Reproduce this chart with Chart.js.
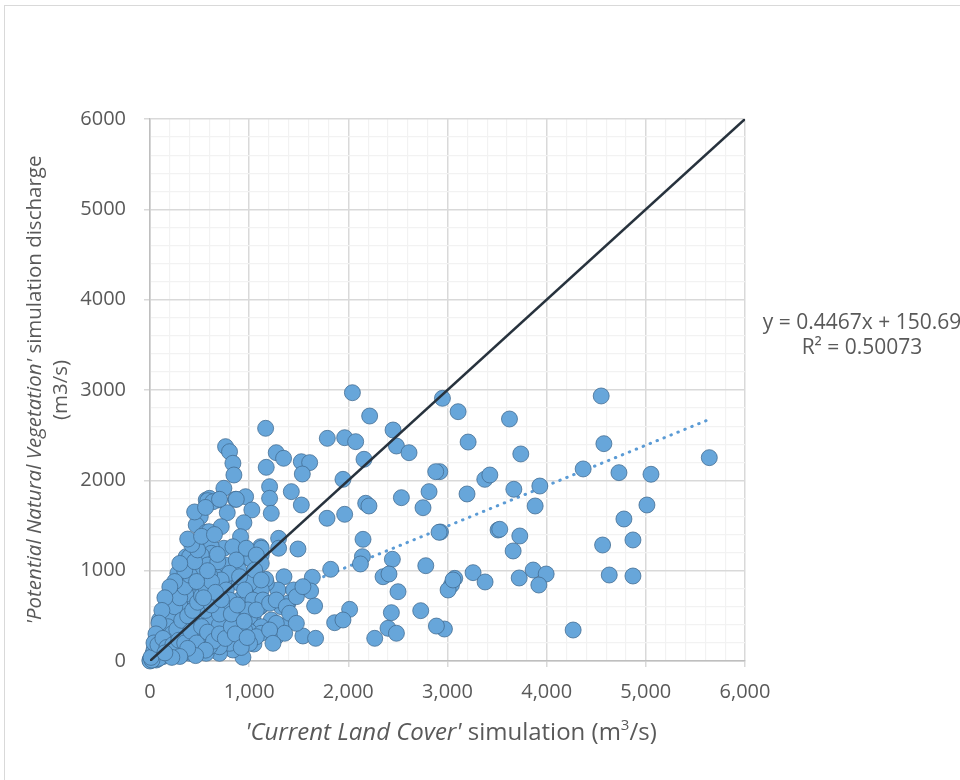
<!DOCTYPE html>
<html>
<head>
<meta charset="utf-8">
<script src="https://cdn.jsdelivr.net/npm/chart.js@4.4.1/dist/chart.umd.min.js"></script>
<style>
  html, body { margin: 0; padding: 0; background: #fff; overflow: hidden; }
  #wrap { position: relative; width: 960px; height: 780px; }
  #frame { position: absolute; left: 4px; top: 5px; width: 1000px; height: 1000px; border: 1.5px solid #d9d9d9; }
  canvas { position: absolute; left: 0; top: 0; }
</style>
</head>
<body>
<div id="wrap">
  <div id="frame"></div>
  <canvas id="dischargeChart" width="960" height="780"></canvas>
</div>
<script>
// x = 'Current Land Cover' discharge, y = 'Potential Natural Vegetation' discharge (m3/s)
const outerPoints = [
  [4550,2934],[3107,2760],[3625,2679],[3208,2424],[3739,2292],[4577,2406],[5640,2251],[2922,2096],
  [4368,2126],[4729,2085],[5052,2067],[3376,2011],[3427,2059],[3197,1849],[3669,1901],[3931,1937],
  [3884,1716],[5011,1727],[4779,1572],[2929,1428],[3510,1450],[3527,1458],[3729,1384],[3662,1218],
  [4564,1284],[4870,1340],[3258,978],[3073,915],[3040,841],[3006,786],[3379,875],[3723,919],
  [3864,1007],[3995,963],[3921,841],[4631,952],[4870,941],[2969,354],[4267,343]
];
const midPoints = [
  [2041,2970],[2949,2908],[2215,2712],[1166,2576],[1788,2465],[1963,2472],[2074,2428],[2451,2557],
  [2485,2380],[2612,2306],[762,2373],[802,2317],[1273,2306],[1347,2244],[1526,2206],[1610,2196],
  [1536,2070],[2158,2233],[836,2189],[846,2059],[1172,2144],[1946,2011],[2881,2096],[745,1912],
  [567,1782],[600,1801],[694,1782],[863,1790],[964,1819],[1206,1930],[1206,1801],[1223,1635],
  [1425,1875],[1526,1727],[1027,1672],[779,1642],[1785,1580],[1963,1624],[2175,1746],[2208,1716],
  [2535,1808],[2814,1875],[2753,1697],[2915,1425],[507,1598],[466,1506],[567,1425],[718,1487],
  [947,1531],[913,1376],[1297,1358],[1297,1248],[1115,1265],[1492,1240],[745,1248],[600,1284],
  [500,1303],[2148,1347],[2142,1155],[2122,1074],[2444,1126],[2781,1055],[1822,1015],[2350,933],
  [2410,963],[2501,767],[3056,897],[1637,927],[1620,775],[1660,609],[1351,933],[1290,786],
  [1448,786],[1391,639],[1324,601],[1173,860],[1105,805],[1115,601],[1122,1173],[1038,1118],
  [903,1118],[836,952],[2013,572],[1862,424],[1946,454],[2434,535],[2400,362],[2485,307],
  [2266,251],[2730,557],[2888,387],[1542,277],[1670,251],[1223,454],[1324,354],[1273,269],
  [1408,435],[1115,313],[937,41],[1048,188]
];
const clusterPoints = [
  [583,1775],[634,1763],[701,1790],[870,1790],[594,1432],[618,1265],[1122,1248],[365,1155],
  [432,1081],[517,1007],[634,1044],[752,1063],[1021,1126],[1122,1081],[896,1007],[802,933],
  [365,1007],[1166,904],[331,1063],[517,1026],[618,1192],[836,1265],[971,1248],[870,1118],
  [1072,1173],[315,897],[399,860],[533,897],[668,933],[802,971],[903,860],[1038,933],
  [1122,786],[230,786],[164,601],[331,675],[466,639],[601,712],[735,749],[836,601],
  [971,675],[1105,601],[903,454],[1038,490],[96,454],[230,490],[365,528],[500,490],
  [634,528],[769,454],[567,380],[399,380],[230,343],[96,307],[735,307],[870,343],
  [1004,380],[802,232],[668,196],[500,196],[331,196],[197,196],[63,158],[836,122],
  [701,85],[567,85],[399,85],[264,66],[129,48],[0,11],[1055,583],[1038,307],[903,232],
  [517,1173],[399,1155],[449,1063],[583,1063],[684,1099],[718,897],[600,952],[483,971],
  [382,897],[281,971],[331,805],[466,823],[634,786],[769,786],[903,675],[802,675],
  [668,639],[533,639],[399,675],[264,639],[164,565],[129,454],[500,546],[769,565],
  [903,565],[1004,490],[987,675],[1122,380],[1004,325],[903,269],[802,196],[701,158],
  [600,158],[466,103],[331,85],[197,85],[63,11],[0,0],[1004,860],[1055,1007],
  [1122,897],[903,933],[954,786],[1038,675],[987,565],[1139,675],[1072,565],[1206,639],
  [1273,675],[1375,601],[1476,712],[1542,823],[1273,417],[1408,528],[1476,417],[1358,307],
  [1122,307],[903,417],[954,343],[1072,269],[1206,343],[1240,196],[1004,196],
  [20,30],[40,20],[60,50],[30,80],[80,120],[50,150],[100,100],[120,60],[150,200],
  [180,120],[200,300],[100,250],[60,220],[140,350],[250,250],[300,150],[350,300],[280,420],
  [170,460],[210,560],[120,400],[40,120],[90,30],[20,10],[10,40],[260,100],[400,250],
  [450,400],[330,330],[420,150],[480,300],[550,260],[600,420],[650,300],[700,400],[750,600],
  [560,560],[440,700],[360,740],[260,780],[200,680],[300,620],
  [150,450],[200,520],[250,600],[300,700],[350,820],[180,380],[220,300],[270,350],
  [320,450],[380,500],[430,560],[480,650],[520,720],[560,820],[620,880],[400,950],
  [350,1000],[450,1100],[300,1080],[250,880],[200,820],[150,700],[120,560],[90,420],
  [60,300],[40,200],[80,180],[130,250],[170,150],[230,180],[290,230],[350,200],
  [410,330],[470,200],[520,380],[580,320],[640,220],[700,300],[760,250],[820,380],
  [860,300],[920,150],[980,260],[560,120],[460,60],[380,140],[300,50],[220,40],
  [150,90],[700,520],[620,620],[820,520],[880,620],[950,440],[720,680],[660,760],
  [540,700],[470,880],[580,1000],[680,1180],[480,1230],[420,1290],[380,1350],[520,1380],
  [650,1400],[450,1650],[560,1700]
];
const allPoints = outerPoints.concat(midPoints, clusterPoints);

// linear fit shown in the picture (dotted) and the 1:1 line
const trendX = [0, 5625];
const trendY = [151, 2668];
const diagX = [0, 6000];
const diagY = [0, 6000];

const trendLabel = ["y = 0.4467x + 150.69", "R\u00b2 = 0.50073"];
const xTitle = [
  { text: "'Current Land Cover'", italic: true },
  { text: " simulation (m" },
  { text: "3", sup: true },
  { text: "/s)" }
];
const yTitleLine1 = [
  { text: "'Potential Natural Vegetation'", italic: true },
  { text: " simulation discharge" }
];
const yTitleLine2 = [{ text: "(m3/s)" }];

const toXY = (xs, ys) => xs.map((x, i) => ({ x: x, y: ys[i] }));

function drawRich(ctx, parts, cx, cy, size) {
  const fontOf = p => (p.italic ? "italic " : "") + (p.sup ? Math.round(size * 0.62) : size) + 'px "Open Sans"';
  let total = 0;
  parts.forEach(p => { ctx.font = fontOf(p); total += ctx.measureText(p.text).width; });
  let x = cx - total / 2;
  ctx.textAlign = "left";
  parts.forEach(p => {
    ctx.font = fontOf(p);
    ctx.fillText(p.text, x, p.sup ? cy - size * 0.3 : cy);
    x += ctx.measureText(p.text).width;
  });
}

const textPlugin = {
  id: "textPlugin",
  afterDraw(chart) {
    const ctx = chart.ctx;
    ctx.save();
    ctx.fillStyle = "#595959";
    ctx.textBaseline = "middle";
    drawRich(ctx, xTitle, 451, 733, 24);
    drawRich(ctx, trendLabel.slice(0, 1).map(t => ({ text: t })), 862, 323, 21);
    drawRich(ctx, trendLabel.slice(1).map(t => ({ text: t })), 862, 348, 21);
    ctx.translate(35, 390);
    ctx.rotate(-Math.PI / 2);
    drawRich(ctx, yTitleLine1, 0, 0, 20.5);
    drawRich(ctx, yTitleLine2, 0, 26, 20.5);
    ctx.restore();
  }
};

const major = v => v % 1000 === 0;

new Chart(document.getElementById("dischargeChart"), {
  type: "scatter",
  data: {
    datasets: [
      {
        type: "line",
        data: toXY(diagX, diagY),
        borderColor: "#27323d",
        borderWidth: 2.5,
        pointRadius: 0,
        order: 0
      },
      {
        data: allPoints.map(p => ({ x: p[0], y: p[1] })),
        backgroundColor: "#67a6da",
        borderColor: "#40698f",
        borderWidth: 0.75,
        pointRadius: 8,
        clip: false,
        order: 1
      },
      {
        type: "line",
        data: toXY(trendX, trendY),
        borderColor: "#5b9bd5",
        borderWidth: 3,
        borderDash: [0.5, 7],
        borderCapStyle: "round",
        pointRadius: 0,
        order: 2
      }
    ]
  },
  options: {
    responsive: false,
    animation: false,
    devicePixelRatio: 1,
    layout: { padding: { left: 0, top: 119, right: 215, bottom: 59 } },
    plugins: { legend: { display: false }, tooltip: { enabled: false } },
    scales: {
      x: {
        type: "linear",
        min: 0,
        max: 6000,
        afterFit: s => { s.height = 60; },
        ticks: {
          stepSize: 200,
          autoSkip: false,
          maxRotation: 0,
          padding: 13,
          color: "#595959",
          font: { family: '"Open Sans"', size: 20 },
          callback: v => (major(v) ? v.toLocaleString("en-US") : "")
        },
        grid: {
          color: c => (major(c.tick.value) ? "#d9d9d9" : "#f2f2f2"),
          lineWidth: c => (major(c.tick.value) ? 1.5 : 1.2),
          tickColor: c => (major(c.tick.value) ? "#d9d9d9" : "rgba(0,0,0,0)"),
          tickLength: 6
        },
        border: { color: "#bfbfbf", width: 1.5 }
      },
      y: {
        type: "linear",
        min: 0,
        max: 6000,
        afterFit: s => { s.width = 150; },
        ticks: {
          stepSize: 200,
          autoSkip: false,
          padding: 18,
          color: "#595959",
          font: { family: '"Open Sans"', size: 20 },
          callback: v => (major(v) ? String(v) : "")
        },
        grid: {
          color: c => (major(c.tick.value) ? "#d9d9d9" : "#f2f2f2"),
          lineWidth: c => (major(c.tick.value) ? 1.5 : 1.2),
          tickColor: c => (major(c.tick.value) ? "#d9d9d9" : "rgba(0,0,0,0)"),
          tickLength: 6
        },
        border: { color: "#bfbfbf", width: 1.5 }
      }
    }
  },
  plugins: [textPlugin]
});
</script>
</body>
</html>
